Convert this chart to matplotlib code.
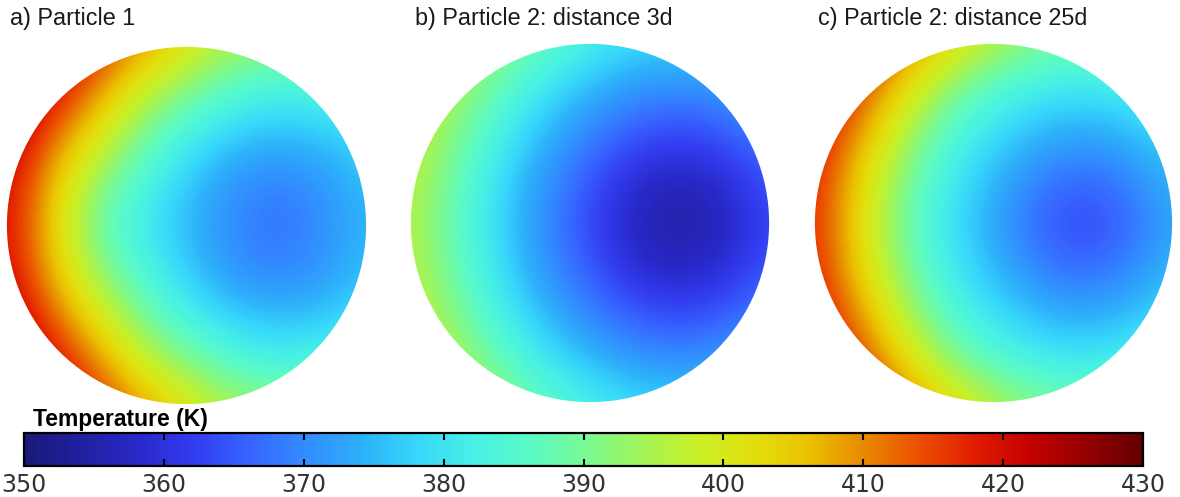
import numpy as np
import matplotlib
matplotlib.use("Agg")
import matplotlib.pyplot as plt
from matplotlib.colors import LinearSegmentedColormap, Normalize
from matplotlib.patches import Circle
import matplotlib.cm as cm

# temperature (K) on a 9x9 grid, x and y from -1 to 1
# (rows top -> bottom, columns left -> right)
T_particle1 = np.array([
    [430, 425, 417, 409, 401, 395, 392, 394, 398],
    [428, 420, 410, 398, 391, 385, 382, 383, 386],
    [424, 413, 401, 390, 382, 377, 375, 376, 379],
    [421, 407, 393, 384, 377, 371, 369, 371, 376],
    [420, 405, 389, 381, 375, 370, 367, 370, 375],
    [421, 407, 393, 384, 377, 371, 369, 371, 376],
    [424, 413, 401, 390, 382, 377, 375, 376, 379],
    [428, 420, 410, 398, 391, 385, 382, 383, 386],
    [430, 425, 417, 409, 401, 395, 392, 394, 398],
])

T_particle2_3d = np.array([
    [403, 398, 393, 387, 382, 379, 378, 379, 382],
    [400, 395, 387, 380, 375, 371, 370, 371, 375],
    [398, 391, 382, 375, 369, 365, 363, 365, 369],
    [397, 388, 379, 371, 365, 359, 357, 359, 365],
    [396, 387, 378, 370, 363, 357, 354, 357, 363],
    [397, 388, 379, 371, 365, 359, 357, 359, 365],
    [398, 391, 382, 375, 369, 365, 363, 365, 369],
    [400, 395, 387, 380, 375, 371, 370, 371, 375],
    [403, 398, 393, 387, 382, 379, 378, 379, 382],
])

T_particle2_25d = np.array([
    [429, 421, 412, 403, 396, 391, 389, 391, 396],
    [424, 415, 403, 392, 385, 381, 380, 381, 385],
    [420, 409, 396, 385, 379, 375, 373, 375, 379],
    [418, 404, 391, 381, 375, 369, 366, 369, 375],
    [417, 403, 389, 380, 373, 366, 363, 366, 373],
    [418, 404, 391, 381, 375, 369, 366, 369, 375],
    [420, 409, 396, 385, 379, 375, 373, 375, 379],
    [424, 415, 403, 392, 385, 381, 380, 381, 385],
    [429, 421, 412, 403, 396, 391, 389, 391, 396],
])

titles = ["a) Particle 1", "b) Particle 2: distance 3d", "c) Particle 2: distance 25d"]
fields = [T_particle1, T_particle2_3d, T_particle2_25d]

t_min, t_max = 350, 430
cbar_ticks = [350, 360, 370, 380, 390, 400, 410, 420, 430]

# colour scale sampled from the legend bar
cmap_colors = [
    (25, 25, 120), (40, 40, 200), (50, 60, 240), (55, 100, 255), (50, 140, 255),
    (45, 175, 250), (55, 215, 250), (70, 240, 230), (90, 250, 200), (120, 250, 150),
    (160, 245, 90), (200, 240, 40), (225, 225, 15), (235, 195, 0), (232, 140, 0),
    (235, 80, 0), (225, 30, 0), (195, 0, 0), (150, 0, 0), (100, 0, 0),
]
stops = [0, .1, .15, .2, .25, .3, .35, .4, .45, .5, .55, .6, .65, .7, .75, .8, .85, .9, .95, 1]
cmap = LinearSegmentedColormap.from_list(
    "temp", list(zip(stops, [tuple(c / 255 for c in col) for col in cmap_colors])))
norm = Normalize(t_min, t_max)

W, H = 1180, 497
fig = plt.figure(figsize=(W / 100, H / 100), dpi=100)


def px_axes(x0, y0, x1, y1):
    # pixel box (top-left origin) -> figure axes
    return fig.add_axes([x0 / W, 1 - y1 / H, (x1 - x0) / W, (y1 - y0) / H])


boxes = [(6, 46, 367, 405), (410, 43, 770, 403), (814, 43, 1173, 403)]
title_x = [10, 415, 818]

h = 0.25
for field, box, title, tx in zip(fields, boxes, titles, title_x):
    ax = px_axes(*box)
    im = ax.imshow(field, cmap=cmap, norm=norm, interpolation="bicubic",
                   extent=(-1 - h / 2, 1 + h / 2, -1 - h / 2, 1 + h / 2),
                   origin="upper", aspect="auto")
    clip = Circle((0, 0), 1.0, transform=ax.transData)
    im.set_clip_path(clip)
    ax.set_xlim(-1.005, 1.005)
    ax.set_ylim(-1.005, 1.005)
    ax.axis("off")
    fig.text(tx / W, 1 - 25 / H, title, fontsize=16.8, family="Liberation Sans",
             color="#1a1a1a", va="baseline", ha="left")

# colour bar
cax = px_axes(24, 433, 1143, 466)
sm = cm.ScalarMappable(norm=norm, cmap=cmap)
cb = fig.colorbar(sm, cax=cax, orientation="horizontal", ticks=cbar_ticks)
cb.outline.set_linewidth(1.6)
cb.outline.set_edgecolor("black")
cax.tick_params(axis="x", direction="in", length=5, width=1.5, color="black",
                top=True, bottom=True, labelsize=17, labelcolor="#333333", pad=5)
cax.minorticks_off()
fig.text(33 / W, 1 - 426 / H, "Temperature (K)", fontsize=16.5, fontweight="bold",
         family="Liberation Sans", color="black", va="baseline", ha="left")

fig.savefig("out.png", dpi=100, facecolor="white")
